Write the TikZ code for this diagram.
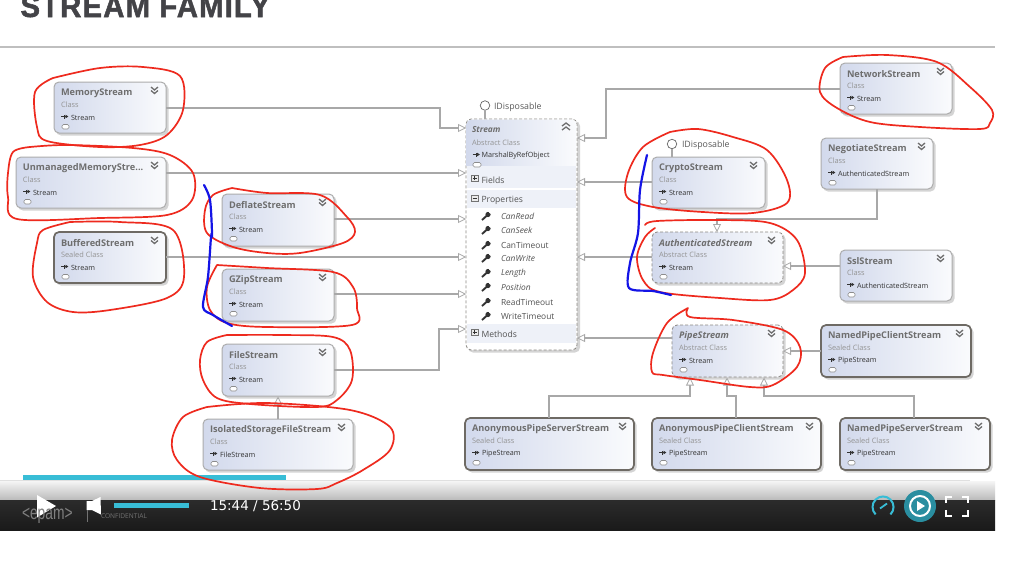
\documentclass[tikz,border=0pt]{standalone}
\usepackage{fontspec}
\setmainfont{Open Sans}
\newfontfamily\headfont{Liberation Sans}
\newfontfamily\clockfont{DejaVu Sans}
\usetikzlibrary{arrows.meta,shapes.geometric,calc}
\definecolor{boxl}{HTML}{D2D9EC}
\definecolor{boxr}{HTML}{FAFBFD}
\definecolor{edge}{HTML}{ACACAC}
\definecolor{edgeb}{HTML}{6E6A64}
\definecolor{conn}{HTML}{A8A8A8}
\definecolor{titlec}{HTML}{6E6E6E}
\definecolor{kindc}{HTML}{949494}
\definecolor{parc}{HTML}{333333}
\definecolor{rowc}{HTML}{EEF1F8}
\definecolor{redink}{HTML}{EE2A1E}
\definecolor{blueink}{HTML}{1414E6}
\definecolor{cyanbar}{HTML}{38BDD6}
\definecolor{headc}{HTML}{434347}
\newcommand{\tsz}[1]{\fontsize{#1}{#1}\selectfont}
\tikzset{
 every node/.style={inner sep=0pt,outer sep=0pt},
 shadowfill/.style={fill=black!17,rounded corners=5pt,draw=none},
 plainbox/.style={draw=edge,line width=1pt,rounded corners=5pt,left color=boxl,right color=boxr},
 thickbox/.style={draw=edgeb,line width=1.7pt,rounded corners=5pt,left color=boxl,right color=boxr},
 dashbox/.style={draw=edgeb!80,line width=.8pt,densely dashed,rounded corners=5pt,left color=boxl,right color=boxr},
 titletxt/.style={anchor=west,text=titlec,font=\tsz{9.2}\bfseries},
 kindtxt/.style={anchor=west,text=kindc,font=\tsz{7.4}},
 partxt/.style={anchor=west,text=parc,font=\tsz{7.2}},
 rowtxt/.style={anchor=west,text=parc!85,font=\tsz{8.6}},
 inh/.style={draw=conn,line width=1.1pt,-{Triangle[open,fill=white,length=8pt,width=8pt,line width=.8pt]}},
 plainline/.style={draw=conn,line width=1.1pt},
 redloop/.style={draw=redink,line width=1.7pt,smooth,tension=.55,line cap=round},
 blueloop/.style={draw=blueink,line width=2.2pt,smooth,tension=.5,line cap=round},
 chev/.style={draw=titlec,line width=1.3pt},
 lolli/.style={circle,draw=black!60,fill=white,line width=.7pt,minimum size=9.5pt},
}
% name, x1,y1,x2,y2, style, title, kind, parent
\newcommand{\umlbox}[9]{%
 \fill[shadowfill] ({#2+2},{#3+2}) rectangle ({#4+2.5},{#5+2.5});
 \node[#6,minimum width={(#4-#2)*1pt},minimum height={(#5-#3)*1pt},anchor=north west] (#1) at (#2,#3) {};
 \node[titletxt] (#1-t) at ({#2+7},{#3+11}) {#7};
 \node[kindtxt] (#1-k) at ({#2+7},{#3+23}) {#8};
 \node[partxt] (#1-p) at ({#2+17},{#3+35.5}) {#9};
 \draw[parc,line width=.7pt,-{Latex[length=3pt,width=4pt]}] ({#2+7},{#3+34.5}) -- ({#2+14.5},{#3+34.5});
 \fill[parc] ({#2+10},{#3+32.5}) rectangle ({#2+10.6},{#3+36.5});
 \draw[black!45,fill=white,line width=.6pt,rounded corners=1.5pt] ({#2+8},{#3+42.5}) rectangle ({#2+15},{#3+47});
 \draw[chev] ({#4-15},{#3+5}) -- ({#4-11.5},{#3+8}) -- ({#4-8},{#3+5});
 \draw[chev] ({#4-15},{#3+8.5}) -- ({#4-11.5},{#3+11.5}) -- ({#4-8},{#3+8.5});
}
\newcommand{\wrench}[1]{%
 \draw[black!80,line width=1.9pt] (482,{#1+4}) -- (487,{#1-.5});
 \fill[black!80] (488,{#1-1.5}) circle (2.6pt);
 \fill[white] (490.2,{#1-3.6}) circle (1.2pt);
}
\begin{document}
\begin{tikzpicture}[x=1pt,y=-1pt]
\useasboundingbox (0,0) rectangle (1022,574);
\fill[white] (0,0) rectangle (1022,574);
% heading
\begin{scope}
 \clip (0,0) rectangle (1022,40);
 \node[anchor=base west,text=headc,font=\headfont\tsz{31}\bfseries] (head) at (20.5,17) {\scalebox{.945}[1]{\addfontfeature{LetterSpace=4,FakeBold=1.6}STREAM FAMILY}};
\end{scope}
\fill[black!25] (0,46) rectangle (995,48.2);
% boxes
\umlbox{mem}{54}{82}{166}{133}{plainbox}{MemoryStream}{Class}{Stream}
\umlbox{unm}{16}{157}{166}{208}{plainbox}{UnmanagedMemoryStre...}{Class}{Stream}
\umlbox{buf}{54}{232}{166}{283}{thickbox}{BufferedStream}{Sealed Class}{Stream}
\umlbox{def}{222}{194}{334}{246}{plainbox}{DeflateStream}{Class}{Stream}
\umlbox{gzip}{222}{269}{334}{321}{plainbox}{GZipStream}{Class}{Stream}
\umlbox{file}{222}{344}{334}{396}{plainbox}{FileStream}{Class}{Stream}
\umlbox{iso}{203}{419}{353}{470}{plainbox}{IsolatedStorageFileStream}{Class}{FileStream}
\umlbox{net}{840}{63}{952}{114}{plainbox}{NetworkStream}{Class}{Stream}
\umlbox{neg}{821}{138}{933}{189}{plainbox}{NegotiateStream}{Class}{AuthenticatedStream}
\umlbox{cry}{652}{157}{765}{208}{plainbox}{CryptoStream}{Class}{Stream}
\umlbox{aut}{652}{232}{783}{283}{dashbox}{\itshape AuthenticatedStream}{Abstract Class}{Stream}
\umlbox{ssl}{840}{250}{952}{301}{plainbox}{SslStream}{Class}{AuthenticatedStream}
\umlbox{pip}{672}{325}{783}{377}{dashbox}{\itshape PipeStream}{Abstract Class}{Stream}
\umlbox{npc}{821}{325}{971}{377}{thickbox}{NamedPipeClientStream}{Sealed Class}{PipeStream}
\umlbox{aps}{465}{418}{634}{470}{thickbox}{AnonymousPipeServerStream}{Sealed Class}{PipeStream}
\umlbox{apc}{652}{418}{821}{470}{thickbox}{AnonymousPipeClientStream}{Sealed Class}{PipeStream}
\umlbox{nps}{840}{418}{990}{470}{thickbox}{NamedPipeServerStream}{Sealed Class}{PipeStream}
% Stream class
\fill[shadowfill] (468,121) rectangle (580,352.5);
\node[draw=edgeb!80,line width=.8pt,densely dashed,rounded corners=5pt,fill=white,minimum width=111pt,minimum height=231pt,anchor=north west] (stream) at (466,119) {};
\shade[left color=boxl,right color=boxr,rounded corners=4.5pt] (466.6,119.6) rectangle (576.4,170);
\fill[rowc] (466.6,166) rectangle (576.4,170);
\fill[rowc] (466.6,170) rectangle (576.4,188);
\fill[rowc] (466.6,190) rectangle (576.4,208);
\fill[rowc] (466.6,324) rectangle (576.4,343);
\node[titletxt,font=\tsz{8.4}\bfseries\itshape] (stream-t) at (472,129.5) {Stream};
\node[kindtxt] (stream-k) at (472,142.5) {Abstract Class};
\node[partxt] (stream-p) at (481.5,155.5) {MarshalByRefObject};
\draw[parc,line width=.7pt,-{Latex[length=3pt,width=4pt]}] (472.5,154.5) -- (480,154.5);
\fill[parc] (475.5,152.5) rectangle (476.1,156.5);
\draw[black!45,fill=white,line width=.6pt,rounded corners=1.5pt] (473,162.5) rectangle (481,167);
\draw[chev] (562,126) -- (566,123) -- (570,126);
\draw[chev] (562,130) -- (566,127) -- (570,130);
% expanders
\node[draw=black!55,fill=black!8,minimum size=6.5pt,line width=.5pt] (xf) at (474.5,178) {};
\draw[black!80,line width=.7pt] (472.5,178) -- (476.5,178) (474.5,176) -- (474.5,180);
\node[draw=black!55,fill=black!8,minimum size=6.5pt,line width=.5pt] (xp) at (474.5,198) {};
\draw[black!80,line width=.7pt] (472.5,198) -- (476.5,198);
\node[draw=black!55,fill=black!8,minimum size=6.5pt,line width=.5pt] (xm) at (474.5,332) {};
\draw[black!80,line width=.7pt] (472.5,332) -- (476.5,332) (474.5,330) -- (474.5,334);
\node[rowtxt] (rf) at (481.5,180) {Fields};
\node[rowtxt] (rp) at (481.5,200) {Properties};
\node[rowtxt] (rm) at (481.5,334.5) {Methods};
\foreach \yy/\nm/\st in {216/CanRead/\itshape,230/CanSeek/\itshape,245/CanTimeout/,258/CanWrite/\itshape,273/Length/\itshape,287/Position/\itshape,302/ReadTimeout/,316/WriteTimeout/}{
 \wrench{\yy}
 \node[rowtxt,font=\tsz{8.4}\st] (pr\nm) at (501,\yy+.8) {\nm};
}
% lollipops
\node[lolli] (lo1) at (485,105.5) {};
\node[anchor=west,text=black!65,font=\tsz{8.8}] (lt1) at (494,107.5) {IDisposable};
\draw[plainline] (lo1) -- (lo1 |- stream.north);
\node[lolli] (lo2) at (672,144) {};
\node[anchor=west,text=black!65,font=\tsz{8.8}] (lt2) at (682,145.5) {IDisposable};
\draw[plainline] (lo2) -- (lo2 |- cry.north);
% attach points on Stream
\coordinate (sa) at (466,128);
\coordinate (sb) at (466,173);
\coordinate (sc) at (466,219);
\coordinate (sd) at (466,257);
\coordinate (se) at (466,294);
\coordinate (sf) at (466,329);
\coordinate (ra) at (577,138);
\coordinate (rb) at (577,182);
\coordinate (rc) at (577,257);
\coordinate (rd) at (577,338);
% connectors
\coordinate (b1) at (440,108);
\draw[inh] (mem.east |- b1) -- (b1) -- (b1 |- sa) -- (sa);
\draw[inh] (unm.east |- sb) -- (sb);
\draw[inh] (def.east |- sc) -- (sc);
\draw[inh] (buf.east |- sd) -- (sd);
\draw[inh] (gzip.east |- se) -- (se);
\coordinate (b2) at (439,370);
\draw[inh] (file.east |- b2) -- (b2) -- (b2 |- sf) -- (sf);
\coordinate (b3) at (606,89);
\draw[inh] (net.west |- b3) -- (b3) -- (b3 |- ra) -- (ra);
\draw[inh] (cry.west |- rb) -- (rb);
\draw[inh] (aut.west |- rc) -- (rc);
\draw[inh] (pip.west |- rd) -- (rd);
\coordinate (b4) at (877,219);
\coordinate (t4) at (717,232);
\draw[inh] (b4 |- neg.south) -- (b4) -- (b4 -| t4) -- (t4);
\coordinate (b5) at (783,266);
\draw[inh] (ssl.west |- b5) -- (b5);
\coordinate (b6) at (783,351);
\draw[inh] (npc.west |- b6) -- (b6);
\coordinate (b7) at (549,396);
\coordinate (t7) at (690,377.5);
\draw[inh] (b7 |- aps.north) -- (b7) -- (b7 -| t7) -- (t7);
\coordinate (b8) at (736,396);
\coordinate (t8) at (727,377.5);
\draw[inh] (b8 |- apc.north) -- (b8) -- (b8 -| t8) -- (t8);
\coordinate (b9) at (914,396);
\coordinate (t9) at (764,377.5);
\draw[inh] (b9 |- nps.north) -- (b9) -- (b9 -| t9) -- (t9);
\coordinate (t10) at (278,396.5);
\draw[inh] (t10 |- iso.north) -- (t10);
% player bar
\shade[top color=white!96!black,bottom color=black!27] (0,481) rectangle (995,500);
\shade[top color=black!83,bottom color=black!90] (0,500) rectangle (995,530.5);
\fill[black!12] (0,480) rectangle (970,481);
\fill[cyanbar] (23,475) rectangle (286,480);
\fill[white] (37,495) -- (56,506) -- (37,517.5) -- cycle;
\fill[white] (86.5,501) -- (92,501) -- (100.5,497) -- (101,514.5) -- (92,510) -- (86.5,510) -- cycle;
\fill[black!55] (87,510) rectangle (87.6,522);
\fill[cyanbar] (114,503) rectangle (189,508);
\node[text=white,font=\clockfont\tsz{13.5},anchor=west] (clock) at (210,506.5) {15:44 / 56:50};
\node[text=black!50,font=\headfont\tsz{15},anchor=west] (logo) at (22,516) {\scalebox{.92}[1.3]{<epam>}};
\node[text=black!55,font=\tsz{6.6},anchor=west] (conf) at (101,516.5) {CONFIDENTIAL};
\draw[cyanbar,line width=2pt] (875.6,514.4) arc (135:405:10.5);
\draw[cyanbar,line width=1.8pt] (880,508.5) -- (887,503.5);
\fill[cyanbar!75!black] (920,506) circle (16);
\draw[white,line width=2pt] (920,506) circle (10);
\fill[white] (917,501) -- (925,506) -- (917,511) -- cycle;
\draw[white,line width=2pt] (946,503) -- (946,496.5) -- (952,496.5);
\draw[white,line width=2pt] (962,496.5) -- (968,496.5) -- (968,503);
\draw[white,line width=2pt] (946,510) -- (946,516) -- (952,516);
\draw[white,line width=2pt] (962,516) -- (968,516) -- (968,510);
% red loops
\draw[redloop] plot coordinates {(53,78)(100,68)(143,67)(180,76)(183,110)(167,135)(140,145)(100,147)(47,141)(37,127)(35,92)(53,78)};
\draw[redloop] plot coordinates {(30,147)(67,145)(133,148)(170,155)(193,173)(192,200)(167,215)(100,218)(17,219)(8,197)(8,173)(13,152)(30,147)};
\draw[redloop] plot coordinates {(70,222)(120,222)(173,230)(184,277)(167,298)(110,310)(73,312)(47,302)(33,277)(37,243)(43,230)(70,222)};
\draw[redloop] plot coordinates {(232,188)(267,193)(320,195)(347,217)(355,232)(343,243)(300,253)(267,253)(233,247)(207,233)(205,210)(213,195)(232,188)};
\draw[redloop] plot coordinates {(217,265)(267,268)(333,272)(353,287)(357,308)(352,325)(267,327)(227,323)(210,310)(207,287)(217,265)};
\draw[redloop] plot coordinates {(227,335)(283,335)(333,337)(350,350)(352,380)(337,400)(317,407)(250,404)(217,398)(203,380)(200,360)(207,342)(227,335)};
\draw[redloop] plot coordinates {(207,407)(267,403)(350,410)(390,427)(390,450)(363,470)(337,483)(317,489)(260,488)(200,477)(177,460)(172,440)(183,417)(207,407)};
\draw[redloop] plot coordinates {(843,57)(887,55)(937,62)(970,87)(992,110)(990,123)(980,129)(920,127)(870,122)(837,108)(820,92)(825,68)(843,57)};
\draw[redloop] plot coordinates {(670,132)(698,129)(733,137)(767,150)(787,180)(787,203)(753,213)(703,212)(653,207)(627,197)(628,173)(643,147)(670,132)};
\draw[redloop] plot coordinates {(645,225)(657,221)(720,220)(770,223)(797,240)(805,273)(793,290)(770,300)(720,298)(660,292)(643,280)(637,257)(645,237)(655,228)};
\draw[redloop] plot coordinates {(688,308)(690,317)(733,320)(783,330)(800,347)(797,367)(773,385)(750,387)(700,380)(663,375)(652,372)(653,353)(667,323)(688,308)};
% blue strokes
\draw[blueloop] plot coordinates {(204,185)(210,200)(212,233)(211,237)(208,277)(203,307)(213,315)(232,326)};
\draw[blueloop] plot coordinates {(647,155)(640,190)(638,233)(630,263)(629,288)(653,291)(671,295)};
\end{tikzpicture}
\end{document}
